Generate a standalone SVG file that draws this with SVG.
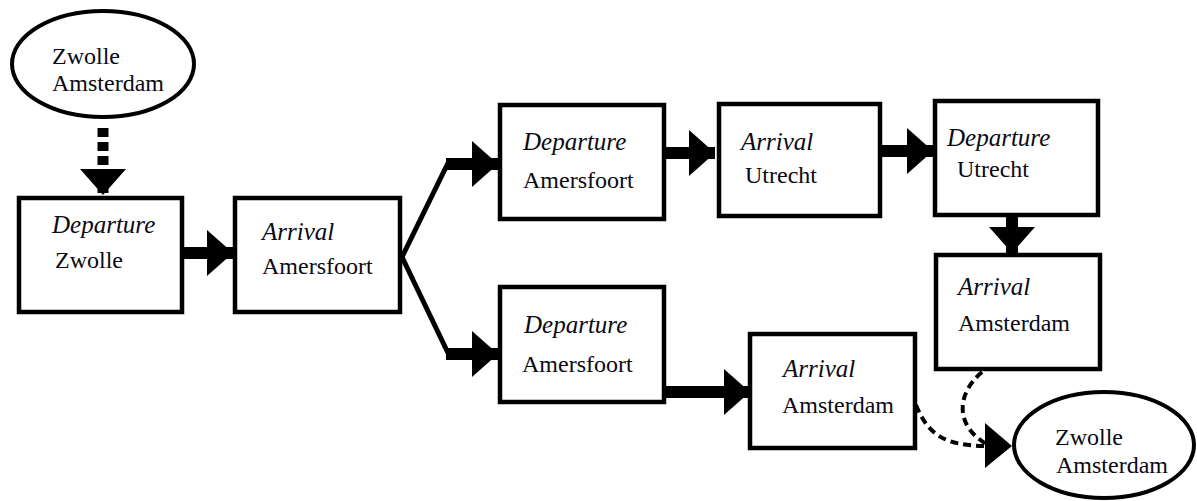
<svg xmlns="http://www.w3.org/2000/svg" width="1197" height="501" viewBox="0 0 1197 501">
<style>
.box{fill:#fff;stroke:#000;stroke-width:4.5}
.ell{fill:#fff;stroke:#000;stroke-width:4}
.t{font-family:"Liberation Serif","Times New Roman",serif;font-size:24px;fill:#0a0a14}
.i{font-style:italic;font-size:25px}
.thick{fill:none;stroke:#000;stroke-width:12}
.thin{fill:none;stroke:#000;stroke-width:5;stroke-linejoin:round}
.dash{fill:none;stroke:#000;stroke-width:4;stroke-dasharray:8 5}
.head{fill:#000}
</style>
<defs>
<marker id="ah" markerUnits="userSpaceOnUse" markerWidth="27" markerHeight="46" refX="26" refY="23" orient="auto" viewBox="0 0 27 46">
<path d="M0,0 L26,23 L0,46 Z" fill="#000"/>
</marker>
</defs>
<g id="connectors">
<path d="M103,128 L103,195" fill="none" stroke="#000" stroke-width="11" stroke-dasharray="9 5" marker-end="url(#ah)"/>
<path class="thick" d="M184,253 L233,253" marker-end="url(#ah)"/>
<path class="thin" d="M402,257 L448,163"/>
<path class="thick" d="M446,164 L498,164" marker-end="url(#ah)"/>
<path class="thin" d="M402,257 L448,353"/>
<path class="thick" d="M446,354 L498,354" marker-end="url(#ah)"/>
<path class="thick" d="M666,153 L715,153" marker-end="url(#ah)"/>
<path class="thick" d="M882,151 L933,151" marker-end="url(#ah)"/>
<path class="thick" d="M1012,217 L1012,253" marker-end="url(#ah)"/>
<path class="thick" d="M666,392 L750,392" marker-end="url(#ah)"/>
<path class="dash" d="M916,405 C928,435 945,446 988,446"/>
<path class="dash" d="M982,372 C955,395 955,428 990,446"/>
<path class="head" d="M985,423 L1012,446 L985,468 Z"/>
</g>
<g id="start">
<ellipse class="ell" cx="103" cy="64" rx="91" ry="53"/>
<text class="t" x="52" y="64">Zwolle</text>
<text class="t" x="52" y="91">Amsterdam</text>
</g>
<g id="dep-zwolle">
<rect class="box" x="19" y="198" width="163" height="114"/>
<text class="t i" x="52" y="233">Departure</text>
<text class="t" x="55" y="268">Zwolle</text>
</g>
<g id="arr-amersfoort">
<rect class="box" x="235" y="198" width="165" height="114"/>
<text class="t i" x="262" y="240">Arrival</text>
<text class="t" x="262" y="274">Amersfoort</text>
</g>
<g id="dep-amersfoort-1">
<rect class="box" x="500" y="105" width="164" height="114"/>
<text class="t i" x="523" y="150">Departure</text>
<text class="t" x="523" y="188">Amersfoort</text>
</g>
<g id="arr-utrecht">
<rect class="box" x="719" y="104" width="161" height="112"/>
<text class="t i" x="741" y="150">Arrival</text>
<text class="t" x="745" y="183">Utrecht</text>
</g>
<g id="dep-utrecht">
<rect class="box" x="935" y="101" width="163" height="114"/>
<text class="t i" x="947" y="146">Departure</text>
<text class="t" x="957" y="177">Utrecht</text>
</g>
<g id="arr-amsterdam-1">
<rect class="box" x="936" y="255" width="164" height="114"/>
<text class="t i" x="958" y="295">Arrival</text>
<text class="t" x="958" y="331">Amsterdam</text>
</g>
<g id="dep-amersfoort-2">
<rect class="box" x="500" y="287" width="164" height="115"/>
<text class="t i" x="524" y="333">Departure</text>
<text class="t" x="522" y="372">Amersfoort</text>
</g>
<g id="arr-amsterdam-2">
<rect class="box" x="750" y="334" width="165" height="114"/>
<text class="t i" x="783" y="377">Arrival</text>
<text class="t" x="782" y="413">Amsterdam</text>
</g>
<g id="end">
<ellipse class="ell" cx="1104" cy="445" rx="90" ry="53"/>
<text class="t" x="1055" y="445">Zwolle</text>
<text class="t" x="1056" y="473">Amsterdam</text>
</g>
</svg>
